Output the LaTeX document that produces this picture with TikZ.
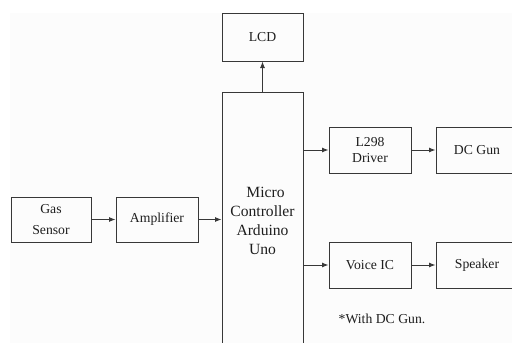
\documentclass[tikz,border=0pt]{standalone}
\usepackage{fontspec}
\setmainfont{Liberation Serif}
\usetikzlibrary{arrows.meta}
\definecolor{linec}{HTML}{383838}
\definecolor{textc}{HTML}{1E1E1E}
\definecolor{bgc}{HTML}{FCFCFC}
\tikzset{
  blockbox/.style={draw=linec, line width=1pt, rectangle, minimum width=81pt, minimum height=46pt, inner sep=0pt, align=center, text=textc, font=\rmfamily\fontsize{13.7}{21}\selectfont},
  conn/.style={draw=linec, line width=1pt, -{Latex[length=6.5pt,width=5pt]}},
}
\begin{document}
\begin{tikzpicture}[x=1pt,y=-1pt]
\useasboundingbox (0,0) rectangle (512,343);
\clip (0,0) rectangle (512,343);
\fill[bgc] (10,13) rectangle (512,343);
\node[blockbox, minimum height=48pt] (lcd) at (262.5,37) {LCD};
\node[blockbox, minimum height=258pt, font=\rmfamily\fontsize{15.6}{19}\selectfont] (mcu) at (262.5,221) {\hspace{6pt}Micro\\Controller\\Arduino\\Uno};
\node[blockbox, minimum width=80pt, minimum height=45pt] (gas) at (51,219.5) {Gas\\Sensor};
\node[blockbox, minimum width=82pt, minimum height=45pt] (amp) at (157,219.5) {Amplifier};
\node[blockbox, minimum width=82pt, font=\rmfamily\fontsize{13.7}{16}\selectfont] (drv) at (370,150) {L298\\Driver};
\node[blockbox, minimum width=82pt] (gun) at (477,150) {DC Gun};
\node[blockbox, minimum width=82pt] (voice) at (370,265) {Voice IC};
\node[blockbox, minimum width=82pt] (spk) at (477,265) {Speaker};
\node[text=textc, font=\rmfamily\fontsize{13.7}{16}\selectfont, inner sep=0pt] (note) at (382,319) {*With DC Gun.};
\draw[conn] (gas.east) -- (amp.west);
\draw[conn] (amp.east) -- (amp.east -| mcu.west);
\draw[conn] (mcu.north) -- (lcd.south);
\draw[conn] (drv.west -| mcu.east) -- (drv.west);
\draw[conn] (drv.east) -- (gun.west);
\draw[conn] (voice.west -| mcu.east) -- (voice.west);
\draw[conn] (voice.east) -- (spk.west);
\end{tikzpicture}
\end{document}
